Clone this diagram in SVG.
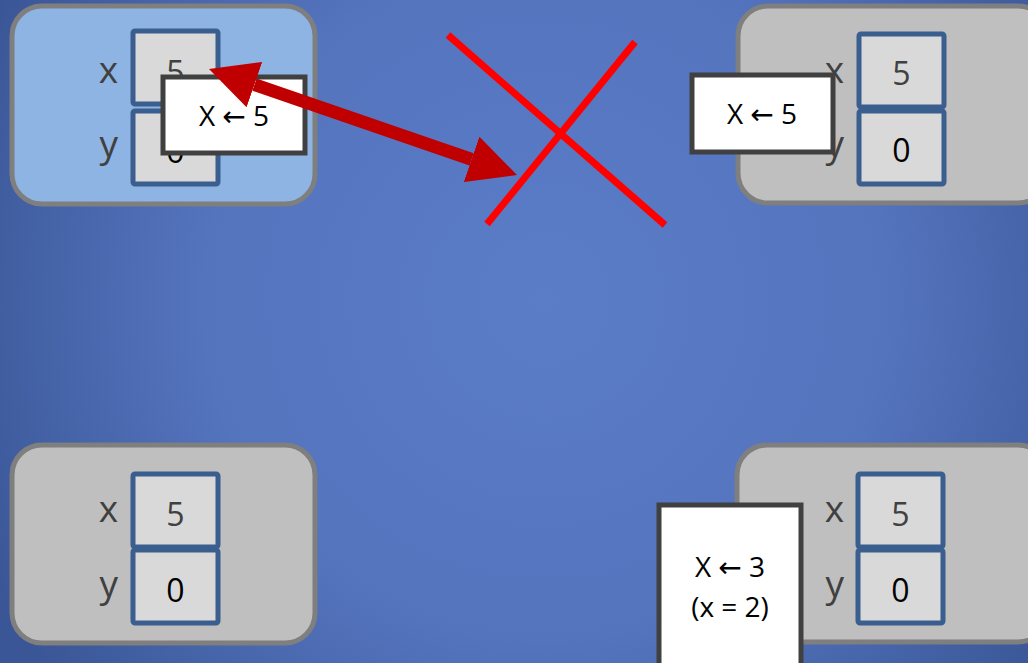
<svg xmlns="http://www.w3.org/2000/svg" width="1028" height="663" viewBox="0 0 1028 663">
<defs>
<radialGradient id="bg" gradientUnits="userSpaceOnUse" cx="545" cy="300" r="620">
<stop offset="0" stop-color="#5b7cc7"/>
<stop offset="0.55" stop-color="#5474be"/>
<stop offset="1" stop-color="#3a5696"/>
</radialGradient>
<marker id="head" markerUnits="userSpaceOnUse" markerWidth="48" markerHeight="48" refX="0" refY="24" orient="auto-start-reverse" viewBox="0 0 48 48">
<path d="M0,0 L48,24 L0,48 z" fill="#c00000"/>
</marker>
<style>
.node{stroke:#7f7f7f;stroke-width:5}
.active{fill:#8eb4e3}
.idle{fill:#bfbfbf}
.cell{fill:#d9d9d9;stroke:#3a5f8f;stroke-width:5}
.lbl{font-family:"Open Sans","Noto Sans",sans-serif;font-size:37px;fill:#404040;text-anchor:end}
.v5{font-family:"Open Sans","Noto Sans",sans-serif;font-size:32px;fill:#404040;text-anchor:middle}
.v0{font-family:"Open Sans","Noto Sans",sans-serif;font-size:32px;fill:#000;text-anchor:middle}
.msg{fill:#fff;stroke:#404040;stroke-width:5}
.mt{font-family:"Open Sans","Noto Sans","DejaVu Sans",sans-serif;font-size:28px;fill:#000;text-anchor:middle}
.cross{stroke:#ff0000;stroke-width:7}
</style>
</defs>
<rect x="0" y="0" width="1028" height="663" fill="url(#bg)"/>

<g id="node-top-left">
<rect class="node active" x="12" y="6" width="303" height="198" rx="30"/>
<text class="lbl" x="118" y="83">x</text>
<text class="lbl" x="118" y="157">y</text>
<rect class="cell" x="133" y="31" width="85" height="73" rx="2"/>
<rect class="cell" x="133" y="111" width="85" height="73" rx="2"/>
<text class="v5" x="175.5" y="84">5</text>
<text class="v0" x="175.5" y="163">0</text>
</g>

<g id="msg-top-left">
<rect class="msg" x="163" y="77" width="142" height="76"/>
<text class="mt" x="234" y="126">X ← 5</text>
</g>

<g id="node-top-right">
<rect class="node idle" x="738" y="6" width="310" height="197" rx="30"/>
<text class="lbl" x="844" y="83">x</text>
<text class="lbl" x="844" y="157">y</text>
<rect class="cell" x="859" y="34" width="85" height="73" rx="2"/>
<rect class="cell" x="859" y="111" width="85" height="73" rx="2"/>
<text class="v5" x="901.5" y="85">5</text>
<text class="v0" x="901.5" y="162">0</text>
</g>

<g id="msg-top-right">
<rect class="msg" x="692" y="75" width="141" height="77"/>
<text class="mt" x="762" y="124">X ← 5</text>
</g>

<g id="node-bottom-left">
<rect class="node idle" x="12" y="445" width="303" height="198" rx="30"/>
<text class="lbl" x="118" y="522">x</text>
<text class="lbl" x="118" y="597">y</text>
<rect class="cell" x="133" y="474" width="85" height="73" rx="2"/>
<rect class="cell" x="133" y="550" width="85" height="73" rx="2"/>
<text class="v5" x="175.5" y="526">5</text>
<text class="v0" x="175.5" y="602">0</text>
</g>

<g id="node-bottom-right">
<rect class="node idle" x="737" y="445" width="311" height="197" rx="30"/>
<text class="lbl" x="844" y="522">x</text>
<text class="lbl" x="844" y="597">y</text>
<rect class="cell" x="858" y="474" width="85" height="73" rx="2"/>
<rect class="cell" x="858" y="550" width="85" height="73" rx="2"/>
<text class="v5" x="900.5" y="526">5</text>
<text class="v0" x="900.5" y="602">0</text>
</g>

<g id="msg-bottom-right">
<rect class="msg" x="659" y="505" width="142" height="165"/>
<text class="mt" x="730" y="577">X ← 3</text>
<text class="mt" x="730" y="617">(x = 2)</text>
</g>

<g id="connectors">
<line x1="254.4" y1="84.6" x2="471.6" y2="159.4" stroke="#c00000" stroke-width="13" marker-start="url(#head)" marker-end="url(#head)"/>
<line class="cross" x1="448" y1="35" x2="665" y2="225"/>
<line class="cross" x1="635" y1="42" x2="487" y2="224"/>
</g>
</svg>
